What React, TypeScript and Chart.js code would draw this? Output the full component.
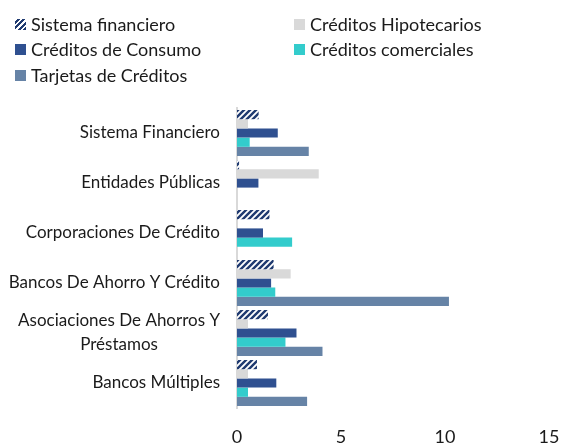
import React, { useEffect, useRef } from 'react';
import { Chart, registerables } from 'chart.js';

Chart.register(...registerables);

const categories: (string | string[])[] = [
  'Sistema Financiero',
  'Entidades Públicas',
  'Corporaciones De Crédito',
  'Bancos De Ahorro Y Crédito',
  ['Asociaciones De Ahorros Y', 'Préstamos'],
  'Bancos Múltiples',
];

const seriesNames = [
  'Sistema financiero',
  'Créditos Hipotecarios',
  'Créditos de Consumo',
  'Créditos comerciales',
  'Tarjetas de Créditos',
];

const sistemaFinanciero = [1.04, 0.1, 1.56, 1.76, 1.49, 0.96];
const creditosHipotecarios = [0.53, 3.93, 0, 2.58, 0.53, 0.53];
const creditosConsumo = [1.96, 1.03, 1.25, 1.64, 2.86, 1.89];
const creditosComerciales = [0.61, 0, 2.65, 1.84, 2.33, 0.53];
const tarjetasCredito = [3.45, 0, 0, 10.19, 4.11, 3.37];

const xTicks = [0, 5, 10, 15];

const NAVY = '#1F3A70';
const COLORS = ['pattern', '#D9D9D9', '#2F5090', '#33CCCC', '#6683A6'];
const FONT = 'Lato, "Open Sans", sans-serif';
const TEXT_COLOR = '#1a1a1a';

function makePattern(): CanvasPattern | string {
  const c = document.createElement('canvas');
  c.width = 6;
  c.height = 6;
  const g = c.getContext('2d');
  if (!g) return NAVY;
  g.fillStyle = '#ffffff';
  g.fillRect(0, 0, 6, 6);
  g.strokeStyle = NAVY;
  g.lineWidth = 2.4;
  g.beginPath();
  g.moveTo(-1, 7);
  g.lineTo(7, -1);
  g.moveTo(-4, 4);
  g.lineTo(4, -4);
  g.moveTo(2, 10);
  g.lineTo(10, 2);
  g.stroke();
  const p = g.createPattern(c, 'repeat');
  return p || NAVY;
}

const yLabelPlugin = {
  id: 'yLabelPlugin',
  afterDraw(chart: any) {
    const ctx = chart.ctx as CanvasRenderingContext2D;
    const yScale = chart.scales.y;
    ctx.save();
    ctx.font = `17px ${FONT}`;
    ctx.fillStyle = TEXT_COLOR;
    ctx.textBaseline = 'middle';
    ctx.textAlign = 'center';
    const right = 220;
    const lineH = 24;
    categories.forEach((c, i) => {
      const lines = Array.isArray(c) ? c : [c];
      const w = Math.max(...lines.map((l) => ctx.measureText(l).width));
      const cx = right - w / 2;
      const cy = yScale.getPixelForValue(i);
      lines.forEach((l, j) => {
        ctx.fillText(l, cx, cy + (j - (lines.length - 1) / 2) * lineH);
      });
    });
    ctx.restore();
  },
};

const legendPositions = [
  { left: 15, top: 24 },
  { left: 294, top: 24 },
  { left: 15, top: 49 },
  { left: 294, top: 49 },
  { left: 15, top: 75 },
];

export default function App() {
  const canvasRef = useRef<HTMLCanvasElement | null>(null);

  useEffect(() => {
    if (!canvasRef.current) return;
    const pattern = makePattern();
    const data = [sistemaFinanciero, creditosHipotecarios, creditosConsumo, creditosComerciales, tarjetasCredito];
    const chart = new Chart(canvasRef.current, {
      type: 'bar',
      data: {
        labels: categories as any,
        datasets: data.map((d, i) => ({
          label: seriesNames[i],
          data: d,
          backgroundColor: COLORS[i] === 'pattern' ? (pattern as any) : COLORS[i],
          borderWidth: 0,
          categoryPercentage: 0.92,
          barPercentage: 1.0,
        })),
      },
      options: {
        indexAxis: 'y',
        responsive: false,
        animation: false,
        devicePixelRatio: 1,
        layout: { padding: { top: 108, right: 21, bottom: 0, left: 0 } },
        plugins: {
          legend: { display: false },
          tooltip: { enabled: false },
        },
        scales: {
          x: {
            type: 'linear',
            min: xTicks[0],
            max: xTicks[xTicks.length - 1],
            afterBuildTicks: (scale: any) => {
              scale.ticks = xTicks.map((v) => ({ value: v }));
            },
            grid: { display: false, drawTicks: false },
            border: { display: false },
            ticks: {
              color: TEXT_COLOR,
              font: { family: FONT, size: 18 },
              padding: 18,
              maxRotation: 0,
            },
            afterFit: (scale: any) => {
              scale.height = 38;
              scale.paddingLeft = 0;
              scale.paddingRight = 0;
            },
          },
          y: {
            type: 'category',
            grid: { display: false, drawTicks: false },
            border: { display: true, color: '#D9D9D9', width: 2 },
            ticks: { display: false },
            afterFit: (scale: any) => {
              scale.width = 237;
              scale.paddingTop = 0;
              scale.paddingBottom = 0;
            },
          },
        },
      },
      plugins: [yLabelPlugin],
    });
    return () => chart.destroy();
  }, []);

  return (
    <div style={{ position: 'fixed', left: 0, top: 0, width: 570, height: 446, background: '#fff' }}>
      <canvas ref={canvasRef} width={570} height={446} style={{ position: 'absolute', left: 0, top: 0 }} />
      {seriesNames.map((name, i) => (
        <div
          key={name}
          style={{
            position: 'absolute',
            left: legendPositions[i].left,
            top: legendPositions[i].top - 13,
            height: 26,
            display: 'flex',
            alignItems: 'center',
            fontFamily: FONT,
            fontSize: 18,
            color: TEXT_COLOR,
            whiteSpace: 'nowrap',
          }}
        >
          <span
            style={{
              display: 'inline-block',
              width: 11,
              height: 11,
              marginRight: 5,
              background:
                COLORS[i] === 'pattern'
                  ? `repeating-linear-gradient(135deg, #ffffff 0px, #ffffff 1.8px, ${NAVY} 1.8px, ${NAVY} 3.8px)`
                  : COLORS[i],
            }}
          />
          <span>{name}</span>
        </div>
      ))}
    </div>
  );
}
